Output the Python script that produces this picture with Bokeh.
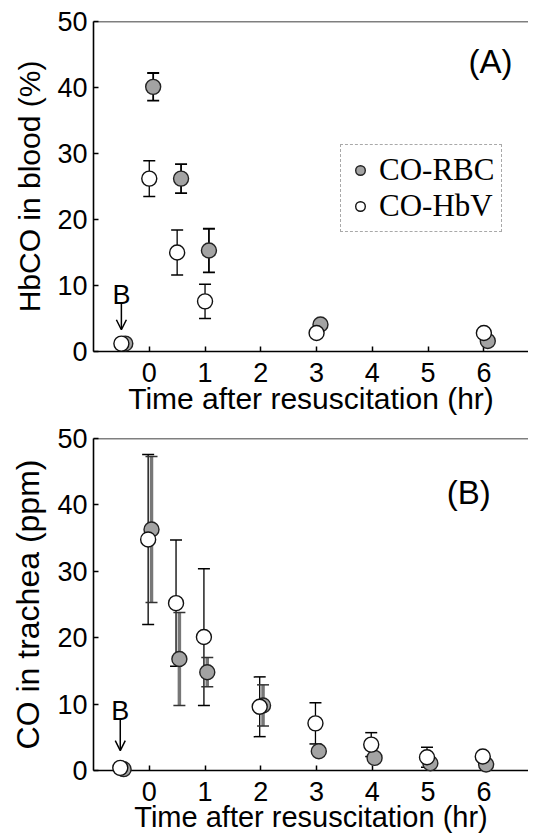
import numpy as np
from bokeh.plotting import figure
from bokeh.layouts import column
from bokeh.models import (ColumnDataSource, Whisker, TeeHead, Legend, LegendItem,
                          Label, Arrow, OpenHead, Span, FixedTicker, Range1d)
from bokeh.embed import file_html
from bokeh.resources import INLINE

# ---------------- data ----------------
# Panel A: HbCO in blood (%)
TIME_A = [-0.5, 0, 0.5, 1, 3, 6]
RBC_A = [1.2, 40.1, 26.2, 15.3, 4.1, 1.6]
RBC_A_ERR = [0, 2.1, 2.2, 3.3, 0, 0]
HBV_A = [1.2, 26.2, 15.0, 7.6, 2.8, 2.8]
HBV_A_ERR = [0, 2.7, 3.4, 2.6, 0, 0]

# Panel B: CO in trachea (ppm)
TIME_B = [-0.5, 0, 0.5, 1, 2, 3, 4, 5, 6]
RBC_B = [0.2, 36.3, 16.8, 14.8, 9.8, 2.9, 1.9, 1.1, 0.9]
RBC_B_ERR = [0, 11.0, 7.0, 2.2, 3.1, 0, 0, 0, 0]
HBV_B = [0.4, 34.8, 25.2, 20.1, 9.6, 7.1, 3.9, 2.0, 2.1]
HBV_B_ERR = [0, 12.8, 9.5, 10.3, 4.5, 3.1, 1.8, 1.5, 0]

X_TICKS = [0, 1, 2, 3, 4, 5, 6]
Y_TICKS = [0, 10, 20, 30, 40, 50]
SERIES = ["CO-RBC", "CO-HbV"]

SANS = "Liberation Sans"
SERIF = "Liberation Serif"
RBC_FILL = "#a3a3a3"


def whisker(p, xs, ys, errs, body_color, body_width, cap_color, cap_width):
    xs2, lo, hi = [], [], []
    for x, y, e in zip(xs, ys, errs):
        if e > 0:
            xs2.append(x)
            lo.append(y - e)
            hi.append(y + e)
    src = ColumnDataSource(dict(x=xs2, lower=lo, upper=hi))
    w = Whisker(base="x", lower="lower", upper="upper", source=src,
                dimension="height", line_color=body_color, line_width=body_width,
                upper_head=TeeHead(size=12, line_color=cap_color, line_width=cap_width),
                lower_head=TeeHead(size=12, line_color=cap_color, line_width=cap_width))
    p.add_layout(w)


def make_panel(time, rbc, rbc_err, hbv, hbv_err, ylabel, ylabel_size, xlabel_size,
               tag, tag_xy, b_label_y, arrow_y, dodge_rbc, dodge_hbv, rbc_bar,
               min_top, frame_h, legend=False):
    p = figure(frame_width=435, frame_height=frame_h,
               x_range=Range1d(-1, 6.8), y_range=Range1d(0, 50),
               output_backend="svg", toolbar_location=None,
               min_border_left=93, min_border_right=0,
               min_border_top=min_top, min_border_bottom=0)
    p.outline_line_color = None
    p.grid.visible = False
    p.background_fill_color = "white"

    for ax in (p.xaxis[0], p.yaxis[0]):
        ax.axis_line_color = "black"
        ax.axis_line_width = 1.6
        ax.major_tick_line_color = "black"
        ax.major_tick_line_width = 1.5
        ax.major_tick_in = 5
        ax.major_tick_out = 0
        ax.minor_tick_line_color = None
        ax.major_label_text_font = SANS
        ax.major_label_text_font_size = "27px"
        ax.major_label_text_color = "black"
        ax.axis_label_text_font = SANS
        ax.axis_label_text_font_style = "normal"
        ax.axis_label_text_color = "black"
    p.xaxis.ticker = FixedTicker(ticks=X_TICKS)
    p.yaxis.ticker = FixedTicker(ticks=Y_TICKS)
    p.xaxis.axis_label = "Time after resuscitation (hr)"
    p.xaxis.axis_label_text_font_size = xlabel_size
    p.xaxis.major_label_standoff = 11
    p.xaxis.axis_label_standoff = -3
    p.yaxis.axis_label = ylabel
    p.yaxis.axis_label_text_font_size = ylabel_size
    p.yaxis.major_label_standoff = 6
    p.yaxis.axis_label_standoff = 8

    # top frame line (no right border visible in the reference)
    p.add_layout(Span(location=50, dimension="width", line_color="black",
                      line_width=1.6))

    x_rbc = [t + dodge_rbc for t in time]
    x_hbv = [t + dodge_hbv for t in time]

    # error bars
    whisker(p, x_hbv, hbv, hbv_err, "black", 1.3, "black", 1.5)
    if rbc_bar == "grey":
        whisker(p, x_rbc, rbc, rbc_err, "#777777", 3.5, "#333333", 1.5)
    else:
        whisker(p, x_rbc, rbc, rbc_err, "black", 1.8, "black", 1.8)

    r_rbc = p.scatter(x_rbc, rbc, size=15, marker="circle", fill_color=RBC_FILL,
                      line_color="#222222", line_width=1.4, level="overlay")
    r_hbv = p.scatter(x_hbv, hbv, size=15, marker="circle", fill_color="white",
                      line_color="#111111", line_width=1.4, level="overlay")

    p.add_layout(Label(x=tag_xy[0], y=tag_xy[1], text=tag, text_font=SANS,
                       text_font_size="33px", text_align="center",
                       text_baseline="middle", text_color="black"))
    p.add_layout(Label(x=time[0] + dodge_hbv, y=b_label_y, text="B", text_font=SANS,
                       text_font_size="27px", text_align="center",
                       text_baseline="alphabetic", text_color="black"))
    p.add_layout(Arrow(x_start=time[0] + dodge_hbv, y_start=arrow_y[0],
                       x_end=time[0] + dodge_hbv, y_end=arrow_y[1],
                       line_color="black", line_width=1.5,
                       end=OpenHead(size=10, line_color="black", line_width=1.5)))

    if legend:
        lg = Legend(items=[LegendItem(label=SERIES[0], renderers=[r_rbc]),
                           LegendItem(label=SERIES[1], renderers=[r_hbv])],
                    location=(247, 119), orientation="vertical",
                    label_text_font=SERIF, label_text_font_size="31px",
                    label_text_color="black",
                    glyph_width=24, glyph_height=34, label_height=34,
                    label_standoff=7, spacing=0, padding=7, margin=0,
                    border_line_color="#555555", border_line_dash="dotted",
                    border_line_width=1.3, background_fill_color="white",
                    background_fill_alpha=1.0)
        p.add_layout(lg, "center")
    return p


p1 = make_panel(TIME_A, RBC_A, RBC_A_ERR, HBV_A, HBV_A_ERR,
                "HbCO in blood (%)", "30px", "30px", "(A)", (6.12, 44.0), 8.5, (7.5, 3.3),
                0.07, 0.0, "black", 21, 330, legend=True)
p2 = make_panel(TIME_B, RBC_B, RBC_B_ERR, HBV_B, HBV_B_ERR,
                "CO in trachea (ppm)", "32px", "29px", "(B)", (5.73, 41.8), 9.0, (7.6, 3.0),
                0.04, -0.02, "grey", 21, 332)

layout = column(p1, p2, spacing=0)
open("out.html", "w").write(file_html(layout, INLINE))
